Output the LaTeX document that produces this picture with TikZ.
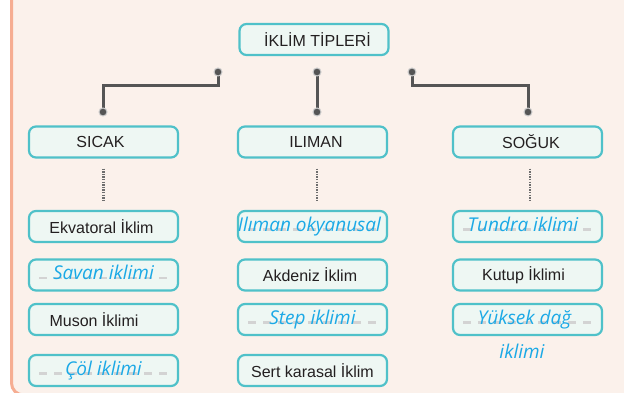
\documentclass[tikz,border=0pt]{standalone}
\usepackage{fontspec}
\setmainfont{Liberation Sans}
\newfontfamily\bluefont{Open Sans}
\usetikzlibrary{calc}
\definecolor{peach}{HTML}{FBF1EB}
\definecolor{salmon}{HTML}{F6AD92}
\definecolor{tealb}{HTML}{4FC1C9}
\definecolor{boxfill}{HTML}{EEF7F3}
\definecolor{bluetxt}{HTML}{1BA9E6}
\definecolor{conn}{HTML}{555555}
\definecolor{dashgray}{HTML}{D3D3D3}
\definecolor{txt}{HTML}{231F20}
\begin{document}
\begin{tikzpicture}[x=1pt,y=-1pt,
 box/.style={draw=tealb, line width=2.2pt, fill=boxfill, rounded corners=7pt,
   minimum width=149pt, minimum height=31pt, inner sep=0pt, text=txt,
   font=\fontsize{16}{19}\selectfont},
 bluefnt/.style={text=bluetxt, font=\bluefont\itshape\fontsize{19}{22}\selectfont,
   text height=14pt, text depth=5pt},
 bluebox/.style={box, bluefnt,
   path picture={\draw[dashgray, line width=2.5pt, dash pattern=on 8pt off 7pt]
     ($(path picture bounding box.west)+(10,3)$) -- ($(path picture bounding box.east)+(-10,3)$);}},
 bluetext/.style={bluefnt, inner sep=0pt},
 conline/.style={draw=conn, line width=3pt},
 dotline/.style={draw=conn!85, line width=2.5pt, dash pattern=on 1.4pt off 1.2pt},
 pin/.style={fill=conn, draw=gray!40, line width=1pt}
]
\useasboundingbox (0,0) rectangle (624,393);
\begin{scope}
\clip (0,0) rectangle (624,393);
\fill[white] (0,0) rectangle (624,393);
\filldraw[fill=peach, draw=salmon, line width=3pt, rounded corners=12pt]
  (11.5,-20) -- (11.5,395) -- (650,395) -- (650,-20) -- cycle;
\end{scope}

% connectors
\coordinate (p1) at (218,72);
\coordinate (p2) at (317,72);
\coordinate (p3) at (412,72);
\coordinate (q1) at (103,112);
\coordinate (q2) at (317,112);
\coordinate (q3) at (528,112);
\draw[conline] (p1) -- ++(0,14) -| (q1);
\draw[conline] (p2) -- (q2);
\draw[conline] (p3) -- ++(0,14) -| (q3);
\foreach \p in {p1,p2,p3,q1,q2,q3} \filldraw[pin] (\p) circle (4pt);

% boxes
\node[box] (top) at (314,39.5) {\hspace*{7pt}İKLİM TİPLERİ};
\node[box] (sicak) at (103.5,142) {\hspace*{-6pt}SICAK};
\node[box] (iliman) at (312.5,142) {\hspace*{7pt}ILIMAN};
\node[box] (soguk) at (527.5,142) {\hspace*{7pt}SOĞUK};

\node[box] (ekv) at (103.5,226.5) {\hspace*{-4pt}Ekvatoral İklim};
\node[bluebox] (savan) at (103.5,275) {Savan iklimi};
\node[box] (muson) at (103.5,319.5) {\hspace*{-19pt}Muson İklimi};
\node[bluebox] (col) at (103.5,370.5) {Çöl iklimi};

\node[bluebox] (okya) at (312.5,226.5) {\hspace*{-6pt}Ilıman okyanusal};
\node[box] (akd) at (312.5,275) {\hspace*{-5pt}Akdeniz İklim};
\node[bluebox] (step) at (312.5,319.5) {Step iklimi};
\node[box] (sert) at (312.5,370.5) {Sert karasal İklim};

\node[bluebox] (tundra) at (527.5,226.5) {\hspace*{-9pt}Tundra iklimi};
\node[box] (kutup) at (527.5,275) {\hspace*{-8pt}Kutup İklimi};
\node[bluebox] (yuksek) at (527.5,319.5) {\hspace*{-6pt}Yüksek dağ};
\node[bluetext] (iklimi) at (522,353.5) {iklimi};

% dotted links
\draw[dotline] ($(sicak.south)+(0,10)$) -- ($(ekv.north)+(0,-10)$);
\draw[dotline] ($(iliman.south)+(4.5,10)$) -- ($(okya.north)+(4.5,-10)$);
\draw[dotline] ($(soguk.south)+(2.5,10)$) -- ($(tundra.north)+(2.5,-10)$);
\end{tikzpicture}
\end{document}
